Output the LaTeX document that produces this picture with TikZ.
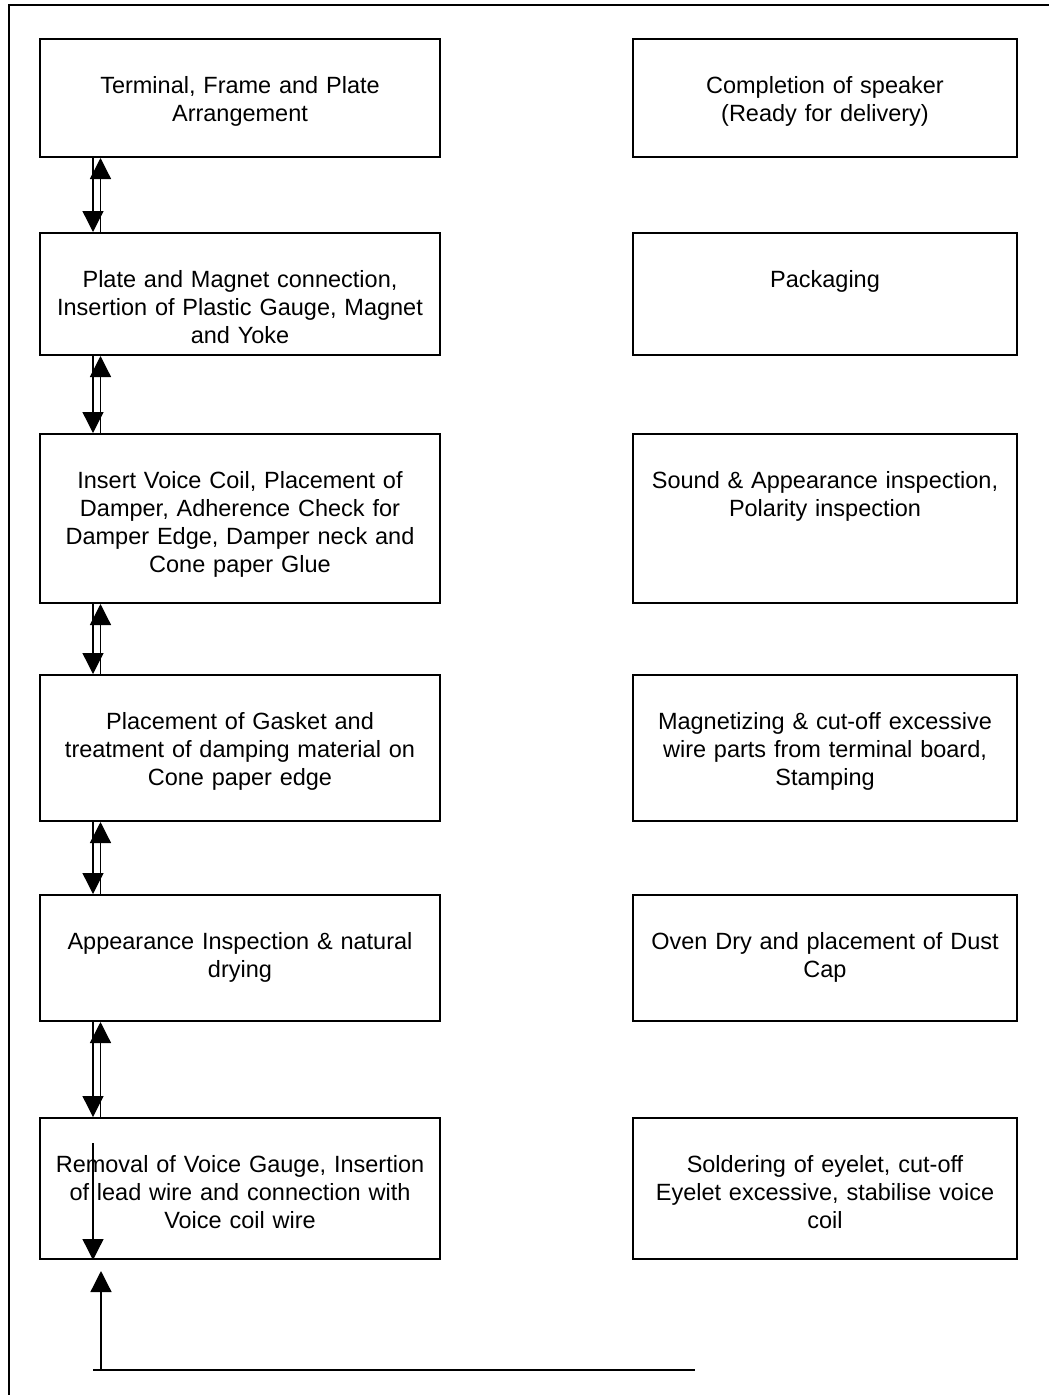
\documentclass[tikz,border=0pt]{standalone}
\usepackage{fontspec}
\setmainfont{Liberation Sans}
\usetikzlibrary{arrows.meta}
\begin{document}
\begin{tikzpicture}[x=1pt,y=-1pt,
  stepbox/.style={draw, line width=2pt, inner sep=0pt},
  lbox/.style={stepbox, minimum width=400pt},
  rbox/.style={stepbox, minimum width=384pt},
  boxtext/.style={anchor=north, align=center, inner sep=0pt, text width=396pt,
    font=\fontsize{23.5}{28}\selectfont},
  arr/.style={line width=1.3pt, -{Triangle[length=21pt,width=21pt]}},
  plain/.style={line width=1.3pt},
  frame/.style={line width=2pt}]
\useasboundingbox (0,0) rectangle (1049,1395);

% outer frame (only top and left visible)
\coordinate (f1) at (9,1400);
\coordinate (f2) at (9,5);
\coordinate (f3) at (1060,5);
\draw[frame] (f1) -- (f2) -- (f3);

% left column
\node[lbox, minimum height=118pt] (L1) at (240,98) {};
\node[lbox, minimum height=122pt] (L2) at (240,294) {};
\node[lbox, minimum height=169pt] (L3) at (240,518.5) {};
\node[lbox, minimum height=146pt] (L4) at (240,748) {};
\node[lbox, minimum height=126pt] (L5) at (240,958) {};
\node[lbox, minimum height=141pt] (L6) at (240,1188.5) {};

% right column
\node[rbox, minimum height=118pt] (R1) at (825,98) {};
\node[rbox, minimum height=122pt] (R2) at (825,294) {};
\node[rbox, minimum height=169pt] (R3) at (825,518.5) {};
\node[rbox, minimum height=146pt] (R4) at (825,748) {};
\node[rbox, minimum height=126pt] (R5) at (825,958) {};
\node[rbox, minimum height=141pt] (R6) at (825,1188.5) {};

% texts
\node[boxtext] (tL1) at ([yshift=-35.4pt]L1.north) {\strut Terminal, Frame and Plate\\Arrangement};
\node[boxtext] (tL2) at ([yshift=-35.4pt]L2.north) {\strut Plate and Magnet connection,\\Insertion of Plastic Gauge, Magnet\\and Yoke};
\node[boxtext] (tL3) at ([yshift=-35.4pt]L3.north) {\strut Insert Voice Coil, Placement of\\Damper, Adherence Check for\\Damper Edge, Damper neck and\\Cone paper Glue};
\node[boxtext] (tL4) at ([yshift=-35.4pt]L4.north) {\strut Placement of Gasket and\\treatment of damping material on\\Cone paper edge};
\node[boxtext] (tL5) at ([yshift=-35.4pt]L5.north) {\strut Appearance Inspection \& natural\\drying};
\node[boxtext] (tL6) at ([yshift=-35.4pt]L6.north) {\strut Removal of Voice Gauge, Insertion\\of lead wire and connection with\\Voice coil wire};

\node[boxtext] (tR1) at ([yshift=-35.4pt]R1.north) {\strut Completion of speaker\\(Ready for delivery)};
\node[boxtext] (tR2) at ([yshift=-35.4pt]R2.north) {\strut Packaging};
\node[boxtext] (tR3) at ([yshift=-35.4pt]R3.north) {\strut Sound \& Appearance inspection,\\Polarity inspection};
\node[boxtext] (tR4) at ([yshift=-35.4pt]R4.north) {\strut Magnetizing \& cut-off excessive\\wire parts from terminal board,\\Stamping};
\node[boxtext] (tR5) at ([yshift=-35.4pt]R5.north) {\strut Oven Dry and placement of Dust\\Cap};
\node[boxtext] (tR6) at ([yshift=-35.4pt]R6.north) {\strut Soldering of eyelet, cut-off\\Eyelet excessive, stabilise voice\\coil};

% double arrows between left boxes
\foreach \a/\b in {L1/L2,L2/L3,L3/L4,L4/L5,L5/L6} {
  \draw[arr] ([xshift=54pt]\a.south west) -- ([xshift=54pt]\b.north west);
  \draw[arr] ([xshift=61.5pt]\b.north west) -- ([xshift=61.5pt]\a.south west);
}

% arrows at the bottom
\coordinate (inS) at (93,1143);
\draw[arr] (inS) -- (inS |- L6.south);
\coordinate (bU) at (101,1370);
\draw[arr] (bU) -- ([yshift=-11pt]bU |- L6.south);
\coordinate (hL) at (93,1370);
\coordinate (hR) at (695,1370);
\draw[plain] (hL) -- (hR);
\end{tikzpicture}
\end{document}
